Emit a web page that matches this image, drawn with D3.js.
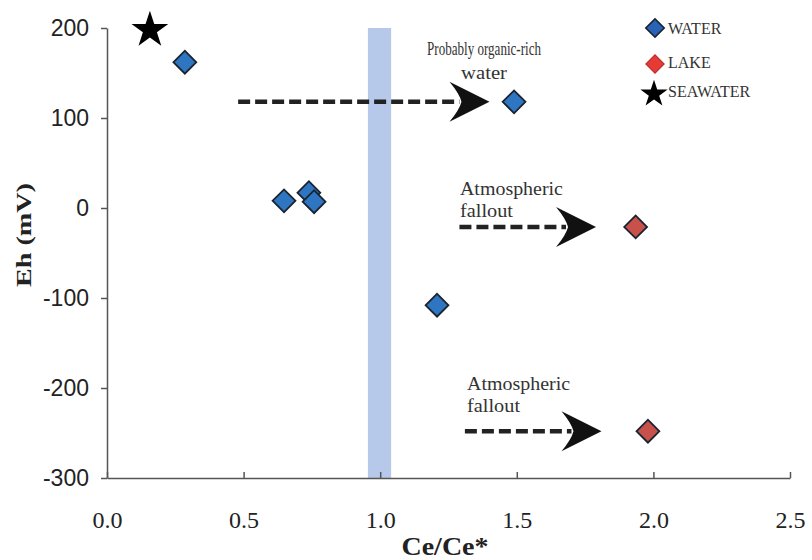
<!DOCTYPE html>
<html><head><meta charset="utf-8">
<script src="https://cdn.jsdelivr.net/npm/d3@7"></script>
<style>body{margin:0;background:#fff}</style>
</head><body><svg id="c" width="812" height="560"></svg>
<script>
const xTicks = [0, 0.5, 1.0, 1.5, 2.0, 2.5];
const yTicks = [200, 100, 0, -100, -200, -300];
const waterX = [0.285, 1.49, 0.648, 0.739, 0.758, 1.208];
const waterY = [162, 118, 8, 17, 7, -108];
const lakeX = [1.935, 1.98];
const lakeY = [-21, -248];
const seaX = [0.157];
const seaY = [200];
const band = [0.955, 1.04];
const arrows = [ {x1: 0.48, x2: 1.40, y: 118}, {x1: 1.29, x2: 1.79, y: -21}, {x1: 1.31, x2: 1.81, y: -248} ];
const notes = [
  {x: 1.38, y: 170, lines: ["Probably organic-rich", "water"], widths: [114, 46], anchor: "middle", gap: 24},
  {x: 1.292, y: 14, lines: ["Atmospheric", "fallout"], widths: [103, 53], anchor: "start", gap: 22},
  {x: 1.318, y: -202, lines: ["Atmospheric", "fallout"], widths: [103, 53], anchor: "start", gap: 22}
];
const legendNames = ["WATER", "LAKE", "SEAWATER"];

const svg = d3.select("#c");
const x = d3.scaleLinear().domain([0, 2.5]).range([107, 790]);
const y = d3.scaleLinear().domain([-300, 200]).range([478, 28]);
const serif = "Liberation Serif, Times New Roman, serif";
const sans = "Liberation Sans, Arial, sans-serif";

// band
svg.append("rect").attr("x", x(band[0])).attr("width", x(band[1]) - x(band[0]))
  .attr("y", y(200)).attr("height", y(-300) - y(200)).attr("fill", "#b6c9ea");

// axes
const gx = svg.append("g").attr("transform", `translate(0,${y(-300)})`)
  .call(d3.axisBottom(x).tickValues(xTicks).tickFormat(d3.format(".1f")).tickSizeInner(-6).tickSizeOuter(0).tickPadding(33));
gx.selectAll("text").attr("font-family", serif).attr("font-size", 24).attr("fill", "#222");
const gy = svg.append("g").attr("transform", `translate(${x(0)},0)`)
  .call(d3.axisLeft(y).tickValues(yTicks).tickFormat(d => String(d)).tickSize(6).tickSizeOuter(0).tickPadding(12));
gy.selectAll("text").attr("font-family", sans).attr("font-size", 23).attr("fill", "#222");
svg.selectAll(".domain, .tick line").attr("stroke", "#555").attr("stroke-width", 1.5);

svg.append("text").attr("x", 445).attr("y", 555).attr("text-anchor", "middle")
  .attr("font-family", serif).attr("font-weight", "bold").attr("font-size", 25).attr("fill", "#222")
  .attr("textLength", 87).attr("lengthAdjust", "spacingAndGlyphs").text("Ce/Ce*");
svg.append("text").attr("transform", `translate(31,235) rotate(-90)`).attr("text-anchor", "middle")
  .attr("font-family", serif).attr("font-weight", "bold").attr("font-size", 22).attr("fill", "#222")
  .attr("textLength", 104).attr("lengthAdjust", "spacingAndGlyphs").text("Eh (mV)");

// arrows
const headPath = "M0,0 L-40,-20 Q-30,-8 -28,0 Q-30,8 -40,20 Z";
arrows.forEach(a => {
  svg.append("line").attr("x1", x(a.x1)).attr("x2", x(a.x2) - 30).attr("y1", y(a.y)).attr("y2", y(a.y))
    .attr("stroke", "#222").attr("stroke-width", 4.5).attr("stroke-dasharray", "12,5");
  svg.append("path").attr("d", headPath).attr("transform", `translate(${x(a.x2)},${y(a.y)})`).attr("fill", "#111");
});

// notes
notes.forEach(n => {
  n.lines.forEach((l, i) => svg.append("text").attr("x", x(n.x)).attr("y", y(n.y) + i * n.gap)
    .attr("text-anchor", n.anchor).attr("font-family", serif).attr("font-size", 19).attr("fill", "#333")
    .attr("textLength", n.widths[i]).attr("lengthAdjust", "spacingAndGlyphs").text(l));
});

// markers
const diamond = d3.symbol().type(d3.symbolSquare).size(260);
const star = d3.symbol().type(d3.symbolStar).size(420);
function dia(cx, cy, fill) {
  svg.append("path").attr("d", diamond()).attr("transform", `translate(${cx},${cy}) rotate(45)`)
    .attr("fill", fill).attr("stroke", "#1b2430").attr("stroke-width", 1.8);
}
waterX.forEach((v, i) => dia(x(v), y(waterY[i]), "#2f76c2"));
lakeX.forEach((v, i) => dia(x(v), y(lakeY[i]), "#c9514c"));
seaX.forEach((v, i) => svg.append("path").attr("d", star()).attr("transform", `translate(${x(v)},${y(seaY[i]) + 2})`).attr("fill", "#000"));

// legend
const ly = [28, 64, 94];
const lb = [34, 68, 97];
const lg = svg.append("g");
const sd = d3.symbol().type(d3.symbolSquare).size(170);
lg.append("path").attr("d", sd()).attr("transform", `translate(655,${ly[0]}) rotate(45)`).attr("fill", "#2a62b5").attr("stroke", "#1b2430").attr("stroke-width", 1.6);
lg.append("path").attr("d", sd()).attr("transform", `translate(655,${ly[1]}) rotate(45)`).attr("fill", "#e63a36").attr("stroke", "#b52a2a").attr("stroke-width", 1);
lg.append("path").attr("d", d3.symbol().type(d3.symbolStar).size(230)()).attr("transform", `translate(654,${ly[2]})`).attr("fill", "#000");
legendNames.forEach((n, i) => lg.append("text").attr("x", 668).attr("y", lb[i])
  .attr("font-family", serif).attr("font-size", 16).attr("fill", "#333").text(n));
</script></body></html>
